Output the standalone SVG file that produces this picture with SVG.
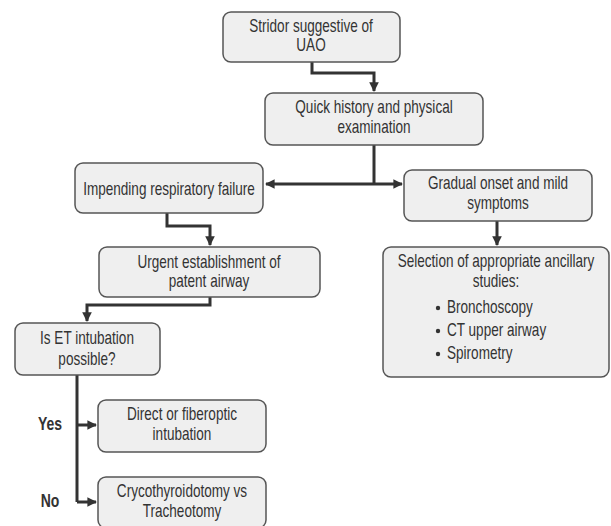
<svg xmlns="http://www.w3.org/2000/svg" width="611" height="526" viewBox="0 0 611 526">
<defs>
<marker id="ah" viewBox="0 0 10 10" refX="9" refY="5" markerWidth="3.2" markerHeight="3.2" orient="auto" markerUnits="strokeWidth">
<path d="M0,0 L10,5 L0,10 z" fill="#333"/>
</marker>
</defs>
<style>
.box{fill:#efefef;stroke:#555;stroke-width:1.5}
text{font-family:"Liberation Sans",Arial,sans-serif;font-size:17.5px;fill:#333;text-anchor:middle}
.st{text-anchor:start}
.lbl{font-size:17.5px;font-weight:bold;fill:#333}
.c{fill:none;stroke:#333;stroke-width:3}
.ca{fill:none;stroke:#333;stroke-width:3;marker-end:url(#ah)}
</style>
<rect width="611" height="526" fill="#fff"/>
<g id="connectors">
<path class="ca" d="M312,62 V73 H374 V91"/>
<path class="c" d="M374,145 V184"/>
<path class="ca" d="M374,184 H266"/>
<path class="ca" d="M374,184 H402"/>
<path class="ca" d="M497,221 V245"/>
<path class="ca" d="M167,213 V226 H210 V245"/>
<path class="ca" d="M210,297 V305 H87 V321"/>
<path class="c" d="M77,375 V502"/>
<path class="ca" d="M77,425 H96"/>
<path class="ca" d="M77,502 H96"/>
</g>
<g id="n1"><rect class="box" x="223" y="12" width="177" height="50" rx="8"/><text transform="translate(311,32) scale(0.775,1)">Stridor suggestive of</text><text transform="translate(311,51) scale(0.775,1)">UAO</text></g>
<g id="n2"><rect class="box" x="265" y="93" width="218" height="52" rx="8"/><text transform="translate(374,113) scale(0.775,1)">Quick history and physical</text><text transform="translate(374,133) scale(0.775,1)">examination</text></g>
<g id="n3"><rect class="box" x="75" y="163" width="188" height="50" rx="8"/><text transform="translate(169,194.5) scale(0.775,1)">Impending respiratory failure</text></g>
<g id="n4"><rect class="box" x="404" y="170" width="188" height="51" rx="8"/><text transform="translate(498,189) scale(0.775,1)">Gradual onset and mild</text><text transform="translate(498,209) scale(0.775,1)">symptoms</text></g>
<g id="n5"><rect class="box" x="383" y="247" width="226" height="130" rx="8"/><text transform="translate(496,267) scale(0.775,1)">Selection of appropriate ancillary</text><text transform="translate(496,287) scale(0.775,1)">studies:</text>
<circle cx="438" cy="308" r="2.2" fill="#333"/><circle cx="438" cy="331" r="2.2" fill="#333"/><circle cx="438" cy="354" r="2.2" fill="#333"/>
<text class="st" transform="translate(447,313) scale(0.775,1)">Bronchoscopy</text><text class="st" transform="translate(447,336) scale(0.775,1)">CT upper airway</text><text class="st" transform="translate(447,359) scale(0.775,1)">Spirometry</text></g>
<g id="n6"><rect class="box" x="99" y="247" width="221" height="50" rx="8"/><text transform="translate(209,268) scale(0.775,1)">Urgent establishment of</text><text transform="translate(209,287) scale(0.775,1)">patent airway</text></g>
<g id="n7"><rect class="box" x="15" y="323" width="145" height="52" rx="8"/><text transform="translate(87,344) scale(0.775,1)">Is ET intubation</text><text transform="translate(87,365) scale(0.775,1)">possible?</text></g>
<g id="n8"><rect class="box" x="98" y="400" width="168" height="52" rx="8"/><text transform="translate(182,420) scale(0.775,1)">Direct or fiberoptic</text><text transform="translate(182,440) scale(0.775,1)">intubation</text></g>
<g id="n9"><rect class="box" x="98" y="477" width="168" height="51" rx="8"/><text transform="translate(182,497) scale(0.775,1)">Crycothyroidotomy vs</text><text transform="translate(182,517) scale(0.775,1)">Tracheotomy</text></g>
<text class="lbl" transform="translate(50,430) scale(0.8,1)">Yes</text>
<text class="lbl" transform="translate(50,507) scale(0.8,1)">No</text>
</svg>
